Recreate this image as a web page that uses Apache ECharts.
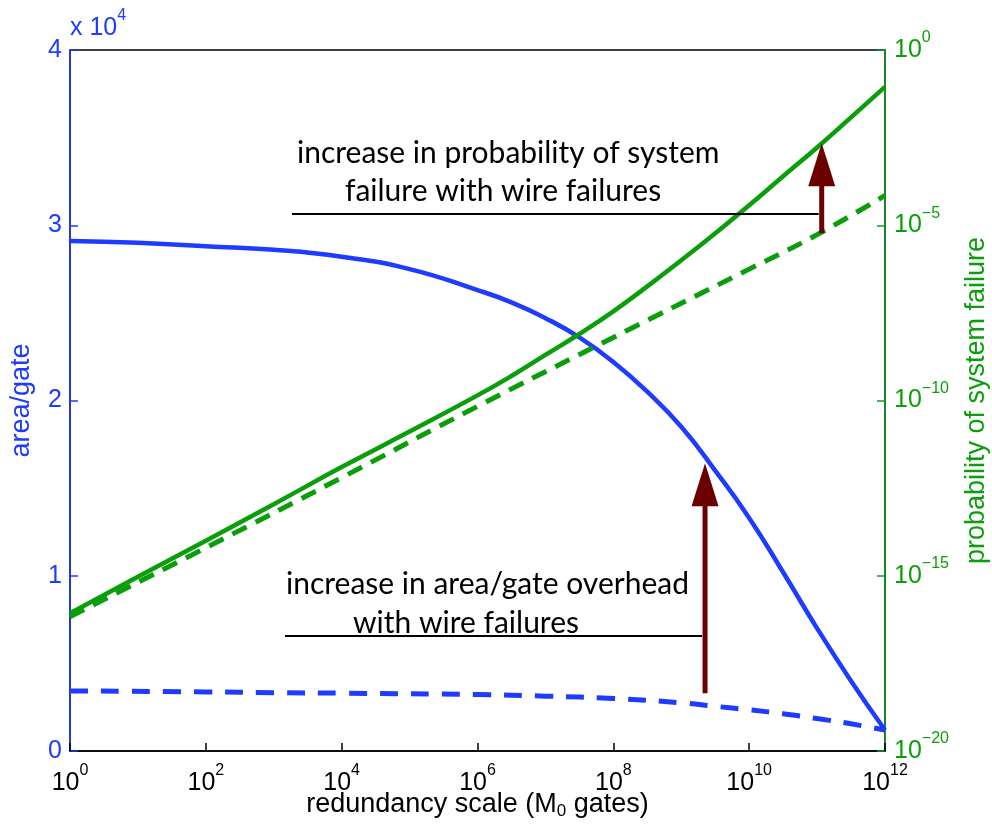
<!DOCTYPE html>
<html><head><meta charset="utf-8">
<script src="https://cdn.jsdelivr.net/npm/echarts@6/dist/echarts.min.js"></script>
<style>html,body{margin:0;padding:0;background:#fff}#c{width:992px;height:835px}</style>
</head><body><div id="c"></div>
<script>
// ---- data ----
const areaX = [1, 1e1, 1e2, 1e3, 1e4, 1e5, 1e6, 3.16e6, 1e7, 3.16e7, 1e8, 3.16e8, 1e9, 3.16e9, 1e10, 3.16e10, 1e11, 3.16e11, 1e12];
const areaWithWireFailures = [29100, 29000, 28800, 28600, 28200, 27500, 26300, 25600, 24700, 23600, 22200, 20500, 18500, 16000, 13300, 10200, 7000, 4000, 1200];
const areaXNoWire = [1, 1e2, 1e3, 1e4, 1e6, 1e7, 1e8, 1e9, 3.16e9, 1e10, 3.16e10, 1e11, 3.16e11, 1e12];
const areaWithoutWireFailures = [3430, 3370, 3330, 3300, 3220, 3130, 3000, 2750, 2550, 2350, 2130, 1850, 1550, 1200];
const probX = [1, 1e1, 1e2, 1e3, 1e4, 1e5, 1e6, 3.16e6, 1e7, 3.16e7, 1e8, 3.16e8, 1e9, 3.16e9, 1e10, 3.16e10, 1e11, 3.16e11, 1e12];
const probWithWireFailures = [8.5e-17, 9.3e-16, 1.0e-14, 1.1e-13, 1.26e-12, 1.3e-11, 1.4e-10, 5.0e-10, 2.0e-9, 7.9e-9, 3.5e-8, 1.8e-7, 1.0e-6, 5.9e-6, 3.7e-5, 2.5e-4, 1.66e-3, 1.2e-2, 8.9e-2];
const probXNoWire = [1, 1e2, 1e4, 1e6, 1e8, 1e10, 1e11, 1e12];
const probWithoutWireFailures = [6.8e-17, 6.3e-15, 6.3e-13, 6.8e-11, 6.3e-9, 5.6e-7, 5.4e-6, 7.1e-5];
// annotation arrows: [x, from, to]
const areaArrow = [2.24e9, 3290, 16420];
const probArrow = [1.17e11, 5.9e-6, 2.2e-3];
const annotationTexts = [
  ['increase in probability of system', 'failure with wire failures'],
  ['increase in area/gate overhead', 'with wire failures']
];
const xAxisTitle = '{n|redundancy scale (M}{sub|0}{n| gates)}';
const leftAxisTitle = 'area/gate';
const rightAxisTitle = 'probability of system failure';

const BLUE = '#1f3bff', GREEN = '#0a9f0a', AXGREEN = '#119a2a', DARKRED = '#6b0000';
const FONT = '"Liberation Sans", Arial, Helvetica, sans-serif';
const ANNOT_FONT = 'Lato, "Open Sans", sans-serif';
const TICK_FS = 25, SUP_FS = 16, TITLE_FS = 27;

function pairs(xs, ys) { return xs.map((x, i) => [x, ys[i]]); }
function expLabel(v) {
  const e = Math.round(Math.log10(v));
  return '{big|10}{sup|' + (e < 0 ? '\u2212' + (-e) : e) + '}';
}
const powRich = (color) => ({
  big: { fontSize: TICK_FS, lineHeight: 40, verticalAlign: 'middle', color: color, fontFamily: FONT },
  sup: { fontSize: SUP_FS, lineHeight: 16, verticalAlign: 'top', color: color, fontFamily: FONT }
});

const chart = echarts.init(document.getElementById('c'), null, { renderer: 'canvas' });
chart.setOption({
  animation: false,
  backgroundColor: '#fff',
  grid: { left: 70, right: 107, top: 50, bottom: 84, outerBoundsMode: 'none', containLabel: false, show: true, borderColor: '#000', borderWidth: 1.5, backgroundColor: 'transparent' },
  xAxis: {
    type: 'log', logBase: 10, min: 1, max: 1e12, interval: 2,
    name: xAxisTitle, nameLocation: 'middle', nameGap: 39, nameMoveOverlap: false,
    nameTextStyle: {
      color: '#000', fontSize: TITLE_FS, fontFamily: FONT,
      rich: {
        n: { fontSize: TITLE_FS, lineHeight: 30, verticalAlign: 'middle', color: '#000', fontFamily: FONT },
        sub: { fontSize: 17, lineHeight: 17, verticalAlign: 'bottom', color: '#000', fontFamily: FONT }
      }
    },
    axisLine: { lineStyle: { color: '#000', width: 1.5 } },
    axisTick: { inside: true, length: 8, lineStyle: { color: '#000', width: 1.5 } },
    minorTick: { show: false },
    splitLine: { show: false },
    axisLabel: { margin: 12, fontSize: TICK_FS, fontFamily: FONT, color: '#000', formatter: expLabel, rich: powRich('#000') }
  },
  yAxis: [
    {
      type: 'value', min: 0, max: 40000, interval: 10000, position: 'left',
      name: leftAxisTitle, nameLocation: 'middle', nameGap: 35, nameRotate: 90, nameMoveOverlap: false,
      nameTextStyle: { color: BLUE, fontSize: TITLE_FS, fontFamily: FONT },
      axisLine: { show: true, lineStyle: { color: BLUE, width: 1.5 } },
      axisTick: { show: true, inside: true, length: 8, lineStyle: { color: BLUE, width: 1.5 } },
      splitLine: { show: false },
      axisLabel: { margin: 8, color: BLUE, fontSize: TICK_FS, fontFamily: FONT, formatter: v => String(v / 10000) }
    },
    {
      type: 'log', logBase: 10, min: 1e-20, max: 1, interval: 5, position: 'right',
      name: rightAxisTitle, nameLocation: 'middle', nameGap: 78, nameRotate: 90, nameMoveOverlap: false,
      nameTextStyle: { color: GREEN, fontSize: TITLE_FS, fontFamily: FONT },
      axisLine: { show: true, lineStyle: { color: AXGREEN, width: 1.5 } },
      axisTick: { show: true, inside: true, length: 8, lineStyle: { color: AXGREEN, width: 1.5 } },
      minorTick: { show: false },
      splitLine: { show: false },
      axisLabel: { margin: 9, fontSize: TICK_FS, fontFamily: FONT, color: GREEN, formatter: expLabel, rich: powRich(GREEN) }
    }
  ],
  series: [
    { type: 'line', name: 'area with wire failures', yAxisIndex: 0, data: pairs(areaX, areaWithWireFailures), smooth: 0.5, showSymbol: false, lineStyle: { color: BLUE, width: 4.5 }, z: 3 },
    { type: 'line', name: 'area without wire failures', yAxisIndex: 0, data: pairs(areaXNoWire, areaWithoutWireFailures), smooth: 0.5, showSymbol: false, lineStyle: { color: BLUE, width: 5, type: [18, 13], cap: 'butt' }, z: 3 },
    { type: 'line', name: 'prob with wire failures', yAxisIndex: 1, data: pairs(probX, probWithWireFailures), smooth: 0.5, showSymbol: false, lineStyle: { color: GREEN, width: 4.5 }, z: 3 },
    { type: 'line', name: 'prob without wire failures', yAxisIndex: 1, data: pairs(probXNoWire, probWithoutWireFailures), smooth: 0.5, showSymbol: false, lineStyle: { color: GREEN, width: 5, type: [16, 10], cap: 'butt' }, z: 3 }
  ]
});

function arrowEls(p0, p1, id) {
  const headH = 43, headW = 27;
  return [
    { type: 'line', id: id + 's', z: 100, shape: { x1: p0[0], y1: p0[1], x2: p1[0], y2: p1[1] + headH - 2 }, style: { stroke: DARKRED, lineWidth: 5 } },
    { type: 'polygon', id: id + 'h', z: 100, shape: { points: [[p1[0], p1[1]], [p1[0] - headW / 2, p1[1] + headH], [p1[0] + headW / 2, p1[1] + headH]] }, style: { fill: DARKRED } }
  ];
}
const a0 = chart.convertToPixel({ xAxisIndex: 0, yAxisIndex: 0 }, [areaArrow[0], areaArrow[1]]);
const a1 = chart.convertToPixel({ xAxisIndex: 0, yAxisIndex: 0 }, [areaArrow[0], areaArrow[2]]);
const b0 = chart.convertToPixel({ xAxisIndex: 0, yAxisIndex: 1 }, [probArrow[0], probArrow[1]]);
const b1 = chart.convertToPixel({ xAxisIndex: 0, yAxisIndex: 1 }, [probArrow[0], probArrow[2]]);

// fit annotation font to the reference text width
const cv = document.createElement('canvas').getContext('2d');
cv.font = '100px ' + ANNOT_FONT;
const afs = Math.min(30, 100 * 426 / cv.measureText(annotationTexts[0][0]).width);
const aText = (id, txt, x, baseline) => ({
  type: 'text', id: id, z: 100, x: x, y: baseline,
  style: { text: txt, fontSize: afs, fontFamily: ANNOT_FONT, fill: '#000', align: 'left', verticalAlign: 'bottom' }
});
const desc = afs * 0.2;

chart.setOption({
  graphic: { elements: [
    { type: 'text', id: 'mult', x: 70, y: 8, style: { text: '{big|x 10}{sup|4}', fontSize: TICK_FS, fontFamily: FONT, rich: powRich(BLUE), fill: BLUE } },
    aText('t1', annotationTexts[0][0], 297, 162 + desc),
    aText('t2', annotationTexts[0][1], 345, 200 + desc),
    aText('t3', annotationTexts[1][0], 286, 593 + desc),
    aText('t4', annotationTexts[1][1], 353, 632 + desc),
    { type: 'line', id: 'u1', z: 99, shape: { x1: 292, y1: 214, x2: b0[0] - 3, y2: 214 }, style: { stroke: '#000', lineWidth: 2 } },
    { type: 'line', id: 'u2', z: 99, shape: { x1: 285, y1: 636, x2: a0[0] - 3, y2: 636 }, style: { stroke: '#000', lineWidth: 2 } },
    ...arrowEls(a0, a1, 'ar1'),
    ...arrowEls(b0, b1, 'ar2')
  ] }
});
</script></body></html>
